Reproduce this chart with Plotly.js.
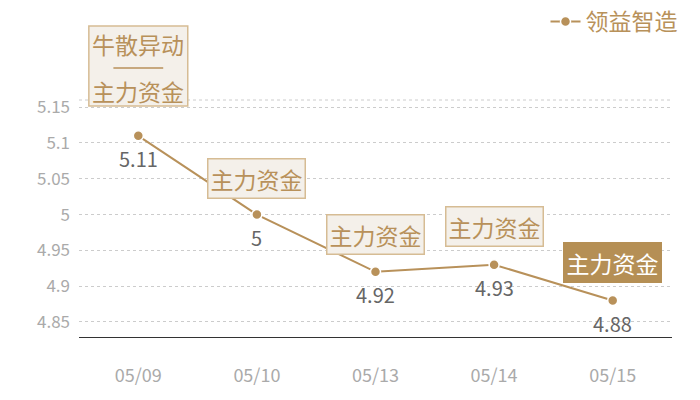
<!DOCTYPE html>
<html>
<head>
<meta charset="utf-8">
<script src="https://cdn.plot.ly/plotly-3.0.1.min.js"></script>
<style>
  html, body { margin: 0; padding: 0; background: #fff; }
  #chart { width: 700px; height: 400px; }
</style>
</head>
<body>
<div id="chart"></div>
<script>
// chart data
var dates = ['05/09', '05/10', '05/13', '05/14', '05/15'];
var prices = [5.11, 5.00, 4.92, 4.93, 4.88];
var priceLabels = ['5.11', '5', '4.92', '4.93', '4.88'];
var seriesName = '领益智造';
var firstTag = ['牛散异动', '主力资金'];
var tagText = '主力资金';
var yTicks = [4.85, 4.9, 4.95, 5, 5.05, 5.1, 5.15];

var gold = '#b8915a';
var boxBg = '#f4f0ea';
var boxLine = '#d6bc94';
var font = '"Noto Sans CJK SC", "Noto Sans", sans-serif';

var trace = {
  x: dates,
  y: prices,
  mode: 'lines+markers',
  type: 'scatter',
  name: seriesName,
  line: { color: gold, width: 2 },
  marker: { color: gold, size: 10, line: { color: '#fff', width: 1.5 } },
  cliponaxis: false
};

var annotations = [];

// value labels under the points
dates.forEach(function (d, i) {
  annotations.push({
    x: d, y: prices[i], xref: 'x', yref: 'y',
    text: priceLabels[i], showarrow: false,
    yanchor: 'middle', yshift: -23,
    font: { family: font, size: 20, color: '#666' }
  });
});

// single tag boxes above points 2..5, the last one filled
var shifts = [0, 16, 17, 18, 17];
for (var i = 1; i < dates.length; i++) {
  var last = i === dates.length - 1;
  annotations.push({
    x: dates[i], y: prices[i], xref: 'x', yref: 'y',
    text: tagText, showarrow: false,
    yanchor: 'bottom', yshift: shifts[i],
    font: { family: font, size: 23, color: last ? '#fff' : gold },
    bgcolor: last ? '#b58f55' : boxBg,
    bordercolor: last ? '#b58f55' : boxLine,
    borderwidth: 1.5,
    borderpad: 2
  });
}

// the two-part tag on the first point (box + divider drawn as shapes)
annotations.push({
  x: dates[0], y: 1.236, xref: 'x', yref: 'paper',
  text: firstTag[0], showarrow: false, yanchor: 'middle',
  font: { family: font, size: 23, color: gold }
});
annotations.push({
  x: dates[0], y: 1.038, xref: 'x', yref: 'paper',
  text: firstTag[1], showarrow: false, yanchor: 'middle',
  font: { family: font, size: 23, color: gold }
});

var layout = {
  width: 700,
  height: 400,
  margin: { l: 79, r: 28, t: 100, b: 63, autoexpand: false },
  paper_bgcolor: '#fff',
  plot_bgcolor: '#fff',
  font: { family: font },
  showlegend: true,
  legend: {
    xref: 'container', yref: 'container',
    x: 0.975, xanchor: 'right',
    y: 1.0, yanchor: 'top',
    font: { family: font, size: 23, color: gold },
    itemwidth: 30,
    bgcolor: 'rgba(0,0,0,0)'
  },
  xaxis: {
    type: 'category',
    range: [-0.5, 4.5],
    showgrid: false,
    showline: true,
    linecolor: '#333',
    linewidth: 1,
    ticks: '',
    ticklabelstandoff: 22,
    tickfont: { family: font, size: 18, color: '#aaa' },
    zeroline: false,
    fixedrange: true
  },
  yaxis: {
    range: [4.829, 5.16],
    tickvals: yTicks,
    showgrid: true,
    gridcolor: '#ccc',
    griddash: 'dot',
    gridwidth: 1,
    showline: false,
    zeroline: false,
    ticks: '',
    ticklabelstandoff: 8,
    tickfont: { family: font, size: 17, color: '#aaa' },
    fixedrange: true
  },
  shapes: [
    {
      type: 'line', xref: 'paper', yref: 'paper',
      x0: 0, x1: 1, y0: 1, y1: 1,
      line: { color: '#ccc', width: 1, dash: 'dot' }
    },
    {
      type: 'rect', xref: 'x', yref: 'paper', layer: 'above',
      x0: -0.417, x1: 0.417, y0: 0.975, y1: 1.312,
      fillcolor: boxBg, line: { color: boxLine, width: 1.5 }
    },
    {
      type: 'line', xref: 'x', yref: 'paper', layer: 'above',
      x0: -0.21, x1: 0.21, y0: 1.135, y1: 1.135,
      line: { color: gold, width: 1.5 }
    }
  ],
  annotations: annotations
};

Plotly.newPlot('chart', [trace], layout, { displayModeBar: false, staticPlot: true });
</script>
</body>
</html>
